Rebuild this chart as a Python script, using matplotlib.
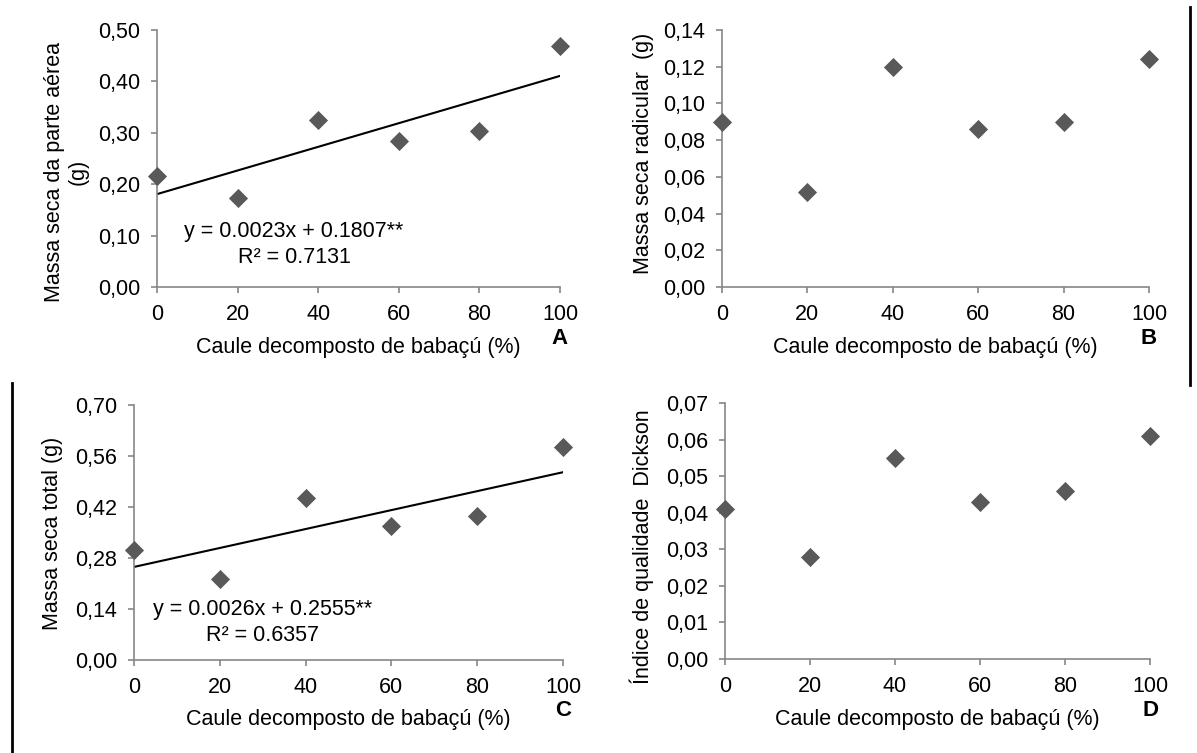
import matplotlib.pyplot as plt
from matplotlib.lines import Line2D

plt.rcParams['font.family'] = ['Liberation Sans', 'DejaVu Sans']

x = [0, 20, 40, 60, 80, 100]

msa = [0.216, 0.174, 0.325, 0.284, 0.304, 0.468]      # A
msr = [0.090, 0.052, 0.120, 0.086, 0.090, 0.124]      # B
mst = [0.302, 0.222, 0.445, 0.369, 0.395, 0.584]      # C
iqd = [0.041, 0.028, 0.055, 0.043, 0.046, 0.061]      # D

# fitted lines (slope, intercept)
fit_a = (0.0023, 0.1807)
fit_c = (0.0026, 0.2555)

yticks_a = [0.0, 0.1, 0.2, 0.3, 0.4, 0.5]
yticks_b = [0.0, 0.02, 0.04, 0.06, 0.08, 0.10, 0.12, 0.14]
yticks_c = [0.0, 0.14, 0.28, 0.42, 0.56, 0.70]
yticks_d = [0.0, 0.01, 0.02, 0.03, 0.04, 0.05, 0.06, 0.07]

xlabel = 'Caule decomposto de babaçú (%)'
ylabels = ['Massa seca da parte aérea\n(g)', 'Massa seca radicular  (g)',
           'Massa seca total (g)', 'Índice de qualidade  Dickson']
letters = ['A', 'B', 'C', 'D']
eq_a = 'y = 0.0023x + 0.1807**\nR² = 0.7131'
eq_c = 'y = 0.0026x + 0.2555**\nR² = 0.6357'

W, H = 1197, 753
fig = plt.figure(figsize=(W / 100, H / 100), dpi=100)

def box(l, r, t, b):
    return [l / W, 1 - b / H, (r - l) / W, (b - t) / H]

gray = '#868686'
mk = '#595959'
fs = 15.5

panels = [
    (box(157, 560, 30, 287), msa, yticks_a, fit_a, eq_a, (34, 0.083), (-0.225, 0.447)),
    (box(722, 1149, 30, 287), msr, yticks_b, None, None, None, (-0.185, 0.518)),
    (box(134, 563, 405, 660), mst, yticks_c, fit_c, eq_c, (30, 0.104), (-0.19, 0.498)),
    (box(725, 1150, 403, 659), iqd, yticks_d, None, None, None, (-0.197, 0.4375)),
]

for i, (pos, vals, yt, fit, eq, eqpos, lblpos) in enumerate(panels):
    ax = fig.add_axes(pos)
    ax.scatter(x, vals, marker='D', s=95, color=mk, zorder=3, clip_on=False, linewidths=0)
    if fit is not None:
        xf = [x[0], x[-1]]
        yf = [fit[0] * v + fit[1] for v in xf]
        ax.plot(xf, yf, color='black', lw=1.5, zorder=2)
        ax.text(eqpos[0], eqpos[1], eq, ha='center', va='center', fontsize=fs,
                linespacing=1.3)
    ax.set_xlim(0, 100)
    ax.set_ylim(0, yt[-1])
    ax.set_xticks(x)
    ax.set_xticklabels([str(v) for v in x])
    ax.set_yticks(yt)
    ax.set_yticklabels([f'{v:.2f}'.replace('.', ',') for v in yt])
    for s in ['top', 'right']:
        ax.spines[s].set_visible(False)
    for s in ['left', 'bottom']:
        ax.spines[s].set_color(gray)
        ax.spines[s].set_linewidth(1.2)
    ax.tick_params(axis='both', colors=gray, labelcolor='black', labelsize=fs,
                   length=4, width=1.2, direction='out')
    ax.tick_params(axis='y', pad=8)
    ax.tick_params(axis='x', pad=8)
    ax.set_xlabel(xlabel, fontsize=fs)
    ax.xaxis.set_label_coords(0.5, -0.235)
    ax.xaxis.label.set_va('center')
    ax.set_ylabel(ylabels[i], fontsize=fs, va='center', ha='center', linespacing=1.15)
    ax.yaxis.set_label_coords(*lblpos)
    ax.text(1.0, -0.2, letters[i], transform=ax.transAxes, ha='center', va='center',
            fontsize=16, fontweight='bold')

# frame lines from the source figure
fig.add_artist(Line2D([1190 / W, 1190 / W], [1 - 7 / H, 1 - 385 / H], color='black', lw=2))
fig.add_artist(Line2D([12 / W, 12 / W], [1 - 383 / H, 0], color='black', lw=2))

fig.savefig('out.png', dpi=100)
